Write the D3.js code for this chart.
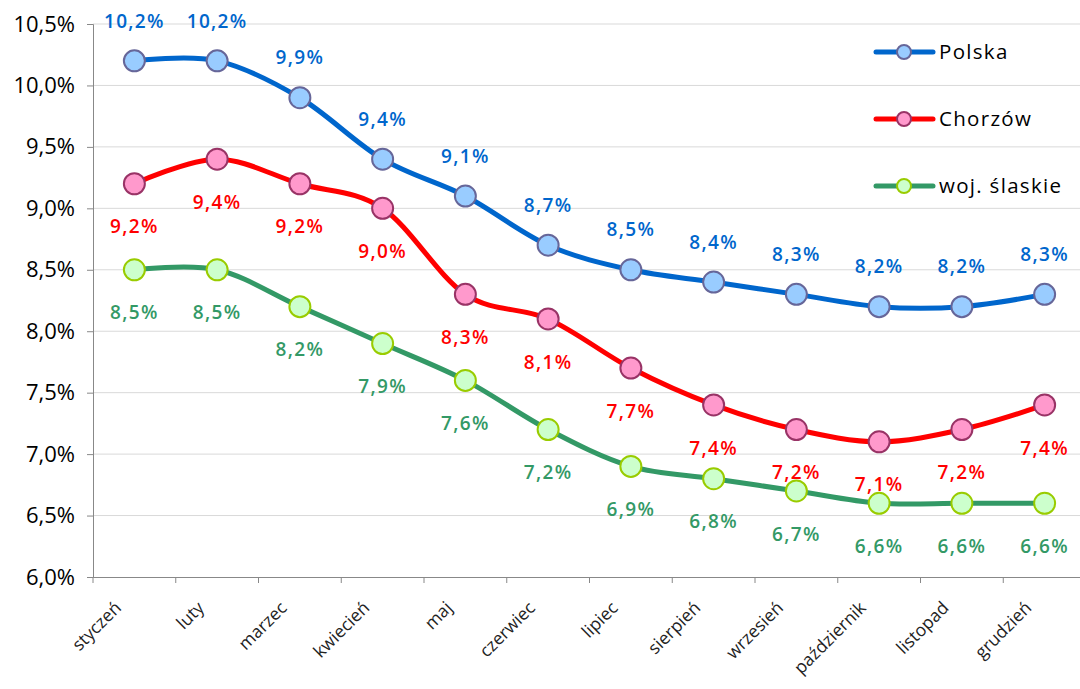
<!DOCTYPE html>
<html><head><meta charset="utf-8">
<script src="https://cdn.jsdelivr.net/npm/d3@7"></script>
<style>
html,body{margin:0;padding:0;background:#fff;}
svg{display:block;}
</style>
</head><body>
<svg id="chart" width="1080" height="689"></svg>
<script>
const months = ["styczeń","luty","marzec","kwiecień","maj","czerwiec","lipiec","sierpień","wrzesień","październik","listopad","grudzień"];
const polska = [10.2,10.2,9.9,9.4,9.1,8.7,8.5,8.4,8.3,8.2,8.2,8.3];
const chorzow = [9.2,9.4,9.2,9.0,8.3,8.1,7.7,7.4,7.2,7.1,7.2,7.4];
const slaskie = [8.5,8.5,8.2,7.9,7.6,7.2,6.9,6.8,6.7,6.6,6.6,6.6];
const seriesNames = ["Polska","Chorzów","woj. ślaskie"];
const yTicks = [6.0,6.5,7.0,7.5,8.0,8.5,9.0,9.5,10.0,10.5];

const styles = [
  {line:"#0066CC", fill:"#99CCFF", stroke:"#666699", label:"#0066CC", dy:-40},
  {line:"#FF0000", fill:"#FF99CC", stroke:"#993366", label:"#FF0000", dy:43},
  {line:"#339966", fill:"#CCFFCC", stroke:"#99CC00", label:"#339966", dy:43}
];
const seriesData = [polska, chorzow, slaskie];

const svg = d3.select("#chart");
const pL = 93, pR = 1086, pT = 24, pB = 577;
const x = d3.scalePoint().domain(months).range([pL, pR]).padding(0.5);
const band = (pR-pL)/months.length;
const y = d3.scaleLinear().domain([6, 10.5]).range([pB, pT]);
const fmt = v => v.toFixed(1).replace(".", ",") + "%";

// gridlines
svg.append("g").selectAll("line").data(yTicks.slice(1)).join("line")
  .attr("x1", pL).attr("x2", 1080)
  .attr("y1", d => y(d)).attr("y2", d => y(d))
  .attr("stroke", "#d9d9d9").attr("stroke-width", 1);

// y axis
const yAxis = svg.append("g").attr("transform", `translate(${pL},0)`)
  .call(d3.axisLeft(y).tickValues(yTicks).tickFormat(fmt).tickSize(6).tickPadding(12));
yAxis.select(".domain").attr("stroke", "#888");
yAxis.selectAll(".tick line").attr("stroke", "#888");
yAxis.selectAll("text").attr("font-family", "'Open Sans', sans-serif").attr("font-size", 22).attr("fill", "#000");

// x axis
const xAxis = svg.append("g").attr("transform", `translate(0,${pB})`)
  .call(d3.axisBottom(x).tickSize(0).tickFormat(""));
xAxis.select(".domain").attr("stroke", "#888").attr("d", `M${pL},0.5H1080`);
xAxis.selectAll(".tick").remove();
svg.append("g").selectAll("line").data(d3.range(months.length+1)).join("line")
  .attr("x1", i => pL + i*band).attr("x2", i => pL + i*band)
  .attr("y1", pB).attr("y2", pB+6).attr("stroke", "#888");
svg.append("g").selectAll("text").data(months).join("text")
  .attr("transform", d => `translate(${x(d)-12},${pB+32}) rotate(-45)`)
  .attr("text-anchor", "end")
  .attr("font-family", "'Open Sans', sans-serif").attr("font-size", 17.5).attr("fill", "#222")
  .text(d => d);

// lines
const line = d3.line().x((d,i) => x(months[i])).y(d => y(d)).curve(d3.curveCardinal.tension(0));
seriesData.forEach((data, si) => {
  const st = styles[si];
  const g = svg.append("g");
  g.append("path").datum(data).attr("d", line)
    .attr("fill", "none").attr("stroke", st.line).attr("stroke-width", 5).attr("stroke-linejoin","round");
  g.selectAll("circle").data(data).join("circle")
    .attr("cx", (d,i) => x(months[i])).attr("cy", d => y(d)).attr("r", 10.5)
    .attr("fill", st.fill).attr("stroke", st.stroke).attr("stroke-width", 2);
  g.selectAll("text").data(data).join("text")
    .attr("x", (d,i) => x(months[i])).attr("y", d => y(d) + st.dy)
    .attr("dy", "0.35em").attr("text-anchor", "middle")
    .attr("font-family", "'Open Sans', sans-serif").attr("font-size", 19).attr("font-weight", 600)
    .attr("letter-spacing", 1.3).attr("fill", st.label)
    .text(d => fmt(d));
});

// legend
const legend = svg.append("g");
seriesNames.forEach((name, si) => {
  const st = styles[si];
  const ly = 52 + si*67;
  legend.append("line").attr("x1", 876).attr("x2", 933).attr("y1", ly).attr("y2", ly)
    .attr("stroke", st.line).attr("stroke-width", 5).attr("stroke-linecap","round");
  legend.append("circle").attr("cx", 904).attr("cy", ly).attr("r", 7)
    .attr("fill", st.fill).attr("stroke", st.stroke).attr("stroke-width", 2);
  legend.append("text").attr("x", 939).attr("y", ly).attr("dy", "0.35em")
    .attr("font-family", "'Open Sans', sans-serif").attr("font-size", 20.5).attr("letter-spacing", 1.3)
    .attr("fill", "#000").text(name);
});
</script>
</body></html>
